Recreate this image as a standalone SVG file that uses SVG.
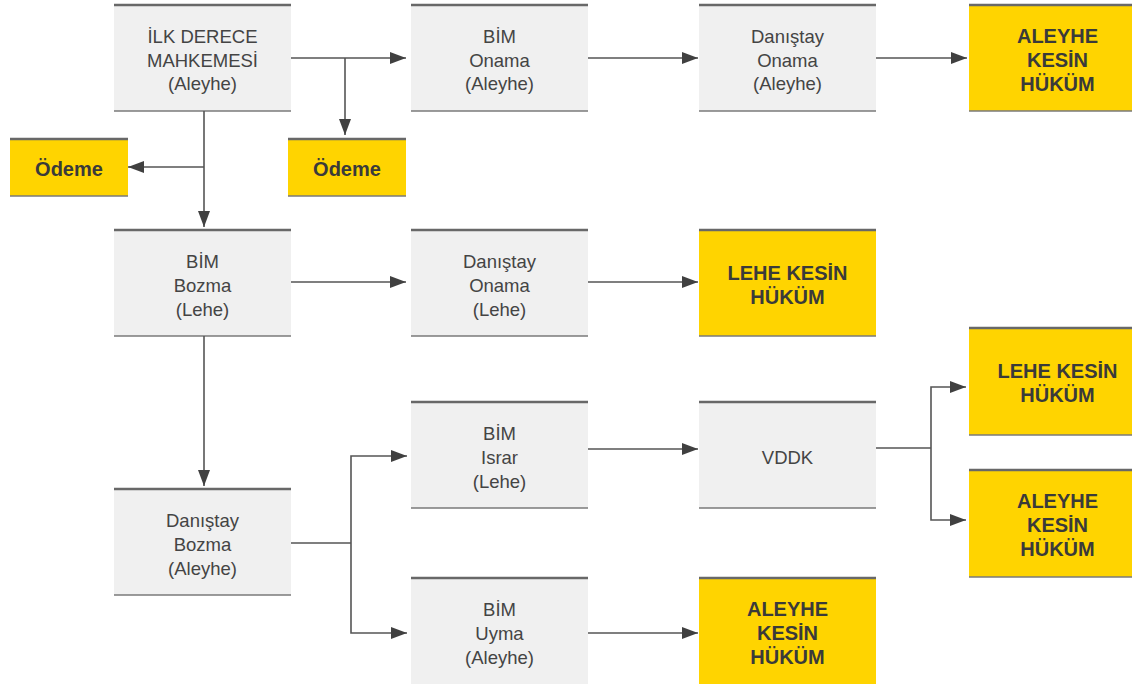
<svg xmlns="http://www.w3.org/2000/svg" width="1132" height="684" viewBox="0 0 1132 684">
<defs>
<marker id="ah" markerUnits="userSpaceOnUse" markerWidth="16" markerHeight="12" refX="16" refY="6" orient="auto">
<path d="M0,0 L16,6 L0,12 z" fill="#404040"/>
</marker>
</defs>
<style>
.g{fill:#f0f0f0}
.y{fill:#ffd400}
.tb{stroke:#686868;stroke-width:2.5}
.bb{stroke:#7a7a7a;stroke-width:1.5}
.t{font-family:"Liberation Sans",Arial,sans-serif;font-size:18.5px;fill:#444;text-anchor:middle}
.b{font-family:"Liberation Sans",Arial,sans-serif;font-size:20px;font-weight:bold;fill:#3a3a3a;text-anchor:middle}
.c{fill:none;stroke:#555;stroke-width:1.6}
.a{marker-end:url(#ah)}
</style>
<rect width="1132" height="684" fill="#fff"/>

<g id="ilk">
<rect class="g" x="114" y="5" width="177" height="106"/>
<line class="tb" x1="114" y1="5" x2="291" y2="5"/><line class="bb" x1="114" y1="111" x2="291" y2="111"/>
<text class="t" x="202.5" y="43">İLK DERECE</text><text class="t" x="202.5" y="66.5">MAHKEMESİ</text><text class="t" x="202.5" y="90">(Aleyhe)</text>
</g>
<g id="odeme1">
<rect class="y" x="10" y="139" width="118" height="57"/>
<line class="tb" x1="10" y1="139" x2="128" y2="139"/><line class="bb" x1="10" y1="196" x2="128" y2="196"/>
<text class="b" x="69" y="176">Ödeme</text>
</g>
<g id="odeme2">
<rect class="y" x="288" y="139" width="118" height="57"/>
<line class="tb" x1="288" y1="139" x2="406" y2="139"/><line class="bb" x1="288" y1="196" x2="406" y2="196"/>
<text class="b" x="347" y="176">Ödeme</text>
</g>
<g id="bim-onama">
<rect class="g" x="411" y="5" width="177" height="106"/>
<line class="tb" x1="411" y1="5" x2="588" y2="5"/><line class="bb" x1="411" y1="111" x2="588" y2="111"/>
<text class="t" x="499.5" y="43">BİM</text><text class="t" x="499.5" y="66.5">Onama</text><text class="t" x="499.5" y="90">(Aleyhe)</text>
</g>
<g id="danistay-onama-aleyhe">
<rect class="g" x="699" y="5" width="177" height="106"/>
<line class="tb" x1="699" y1="5" x2="876" y2="5"/><line class="bb" x1="699" y1="111" x2="876" y2="111"/>
<text class="t" x="787.5" y="43">Danıştay</text><text class="t" x="787.5" y="66.5">Onama</text><text class="t" x="787.5" y="90">(Aleyhe)</text>
</g>
<g id="aleyhe-kesin-1">
<rect class="y" x="969" y="5" width="177" height="106"/>
<line class="tb" x1="969" y1="5" x2="1146" y2="5"/><line class="bb" x1="969" y1="111" x2="1146" y2="111"/>
<text class="b" x="1057.5" y="43">ALEYHE</text><text class="b" x="1057.5" y="67">KESİN</text><text class="b" x="1057.5" y="91">HÜKÜM</text>
</g>

<g id="bim-bozma">
<rect class="g" x="114" y="230" width="177" height="106"/>
<line class="tb" x1="114" y1="230" x2="291" y2="230"/><line class="bb" x1="114" y1="336" x2="291" y2="336"/>
<text class="t" x="202.5" y="268">BİM</text><text class="t" x="202.5" y="292">Bozma</text><text class="t" x="202.5" y="316">(Lehe)</text>
</g>
<g id="danistay-onama-lehe">
<rect class="g" x="411" y="230" width="177" height="106"/>
<line class="tb" x1="411" y1="230" x2="588" y2="230"/><line class="bb" x1="411" y1="336" x2="588" y2="336"/>
<text class="t" x="499.5" y="268">Danıştay</text><text class="t" x="499.5" y="292">Onama</text><text class="t" x="499.5" y="316">(Lehe)</text>
</g>
<g id="lehe-kesin-1">
<rect class="y" x="699" y="230" width="177" height="106"/>
<line class="tb" x1="699" y1="230" x2="876" y2="230"/><line class="bb" x1="699" y1="336" x2="876" y2="336"/>
<text class="b" x="787.5" y="280">LEHE KESİN</text><text class="b" x="787.5" y="304">HÜKÜM</text>
</g>

<g id="lehe-kesin-2">
<rect class="y" x="969" y="328" width="177" height="107"/>
<line class="tb" x1="969" y1="328" x2="1146" y2="328"/><line class="bb" x1="969" y1="435" x2="1146" y2="435"/>
<text class="b" x="1057.5" y="378">LEHE KESİN</text><text class="b" x="1057.5" y="402">HÜKÜM</text>
</g>
<g id="bim-israr">
<rect class="g" x="411" y="402" width="177" height="106"/>
<line class="tb" x1="411" y1="402" x2="588" y2="402"/><line class="bb" x1="411" y1="508" x2="588" y2="508"/>
<text class="t" x="499.5" y="440">BİM</text><text class="t" x="499.5" y="464">Israr</text><text class="t" x="499.5" y="488">(Lehe)</text>
</g>
<g id="vddk">
<rect class="g" x="699" y="402" width="177" height="106"/>
<line class="tb" x1="699" y1="402" x2="876" y2="402"/><line class="bb" x1="699" y1="508" x2="876" y2="508"/>
<text class="t" x="787.5" y="464">VDDK</text>
</g>
<g id="aleyhe-kesin-2">
<rect class="y" x="969" y="470" width="177" height="107"/>
<line class="tb" x1="969" y1="470" x2="1146" y2="470"/><line class="bb" x1="969" y1="577" x2="1146" y2="577"/>
<text class="b" x="1057.5" y="508">ALEYHE</text><text class="b" x="1057.5" y="532">KESİN</text><text class="b" x="1057.5" y="556">HÜKÜM</text>
</g>
<g id="danistay-bozma">
<rect class="g" x="114" y="489" width="177" height="106"/>
<line class="tb" x1="114" y1="489" x2="291" y2="489"/><line class="bb" x1="114" y1="595" x2="291" y2="595"/>
<text class="t" x="202.5" y="527">Danıştay</text><text class="t" x="202.5" y="551">Bozma</text><text class="t" x="202.5" y="575">(Aleyhe)</text>
</g>
<g id="bim-uyma">
<rect class="g" x="411" y="578" width="177" height="106"/>
<line class="tb" x1="411" y1="578" x2="588" y2="578"/>
<text class="t" x="499.5" y="616">BİM</text><text class="t" x="499.5" y="640">Uyma</text><text class="t" x="499.5" y="664">(Aleyhe)</text>
</g>
<g id="aleyhe-kesin-3">
<rect class="y" x="699" y="578" width="177" height="106"/>
<line class="tb" x1="699" y1="578" x2="876" y2="578"/>
<text class="b" x="787.5" y="616">ALEYHE</text><text class="b" x="787.5" y="640">KESİN</text><text class="b" x="787.5" y="664">HÜKÜM</text>
</g>

<g id="connectors">
<path class="c a" d="M291,58 H406"/>
<path class="c a" d="M345,58 V135"/>
<path class="c a" d="M204,111 V227"/>
<path class="c a" d="M204,167 H128"/>
<path class="c a" d="M588,58 H698"/>
<path class="c a" d="M876,58 H967"/>
<path class="c a" d="M291,282 H406"/>
<path class="c a" d="M588,282 H698"/>
<path class="c a" d="M204,336 V486"/>
<path class="c" d="M291,543 H351"/>
<path class="c a" d="M351,543 V456 H407"/>
<path class="c a" d="M351,543 V633 H407"/>
<path class="c a" d="M588,449 H698"/>
<path class="c" d="M876,448 H931"/>
<path class="c a" d="M931,448 V387 H966"/>
<path class="c a" d="M931,448 V520 H966"/>
<path class="c a" d="M588,633 H698"/>
</g>
</svg>
